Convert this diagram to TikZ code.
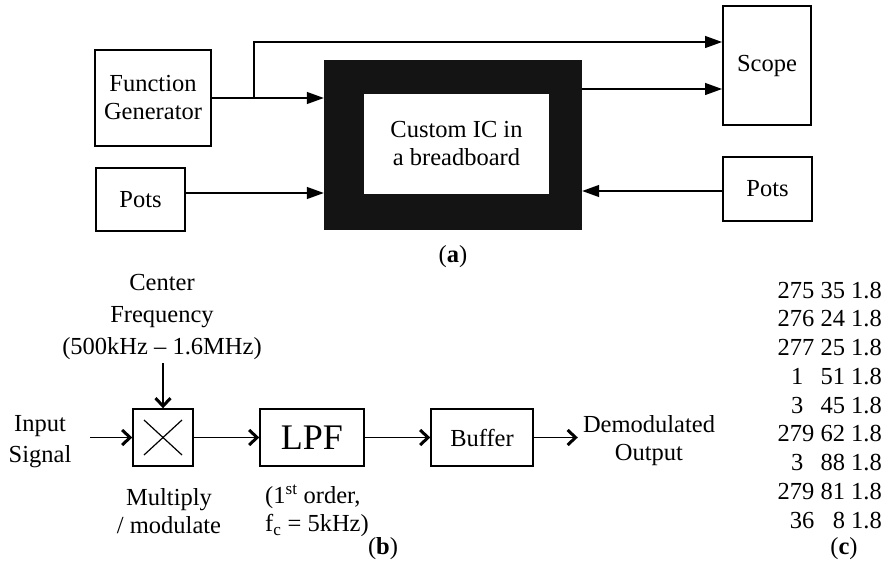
\documentclass[tikz,border=0pt]{standalone}
\usepackage{fontspec}
\setmainfont{Liberation Serif}
\usetikzlibrary{arrows.meta}

% one table row: two right-aligned integer columns and the constant 1.8
\newcommand\tabrow[2]{\makebox[1.5em][r]{#1}\hspace{.25em}\makebox[1em][r]{#2}\hspace{.25em}1.8}

\begin{document}
\begin{tikzpicture}[x=1bp,y=-1bp,
  txt/.style={font=\fontsize{24.5bp}{28bp}\selectfont, inner sep=0pt, align=center},
  boxa/.style={txt, draw, line width=2bp},
  boxb/.style={txt, draw, line width=1.4bp, minimum height=57bp},
  arrA/.style={line width=1.3bp, -{Triangle[length=17bp,width=12bp]}},
  arrB/.style={line width=1.3bp, -{Straight Barb[length=8bp,width=15bp,line width=3bp]}},
  sublabel/.style={txt},
]
\useasboundingbox (0,0) rectangle (894,568);

% ---------------- (a) bench set-up ----------------
\node[boxa, minimum width=116bp, minimum height=96bp] (fg) at (153,98) {Function\\Generator};
\node[boxa, minimum width=89bp, minimum height=63bp] (potsl) at (140.5,199.5) {Pots};
\node[boxa, minimum width=88bp, minimum height=119bp] (scope) at (767,65.5) {Scope};
\node[boxa, minimum width=89bp, minimum height=64bp] (potsr) at (767.5,189) {Pots};

% breadboard: thick black frame around the IC
\node[fill=black!92, draw=none, minimum width=258bp, minimum height=170bp, inner sep=0pt] (ic) at (453,145) {};
\node[txt, fill=white, minimum width=185bp, minimum height=100bp] (chip) at (456.5,144) {Custom IC in\\a breadboard};

\draw[arrA] (fg.east) -- (fg.east -| ic.west);
\coordinate (br) at (254,98);
\draw[arrA] (br) |- ([yshift=23.5bp]scope.west);
\draw[arrA] ([yshift=56bp]ic.east) -- ([yshift=56bp]ic.east -| scope.west);
\draw[arrA] ([yshift=6.5bp]potsl.east) -- ([yshift=6.5bp]potsl.east -| ic.west);
\draw[arrA] ([yshift=-2bp]potsr.west) -- ([yshift=-2bp]potsr.west -| ic.east);

\node[sublabel] (la) at (453,257) {(\textbf{a})};

% ---------------- (b) demodulator chain ----------------
\node[boxb, minimum width=60bp] (mul) at (163,437.5) {};
\draw[line width=1.2bp] ([xshift=-19bp,yshift=17.5bp]mul.center) -- ([xshift=19bp,yshift=-17.5bp]mul.center);
\draw[line width=1.2bp] ([xshift=-19bp,yshift=-17.5bp]mul.center) -- ([xshift=19bp,yshift=17.5bp]mul.center);
\node[boxb, minimum width=104bp, font=\fontsize{36bp}{40bp}\selectfont] (lpf) at (312,437.5) {LPF};
\node[boxb, minimum width=102bp] (buf) at (482,437.5) {Buffer};

\node[txt, font=\fontsize{24.5bp}{31bp}\selectfont] (inp) at (40,442) {Input\\Signal};
\node[txt, font=\fontsize{24.5bp}{32bp}\selectfont] (cf) at (162,317) {Center\\Frequency\\(500kHz -- 1.6MHz)};
\node[txt] (demod) at (649,441) {Demodulated\\Output};
\node[txt] (mullab) at (169,511) {Multiply\\/ modulate};
\node[txt, align=left, anchor=west] (lpflab) at (265,511) {(1\textsuperscript{st} order,\\f\textsubscript{c} = 5kHz)};

\coordinate (sig) at (90,437.5);
\coordinate (fin) at (163,363);
\draw[arrB] (sig) -- (mul.west);
\draw[arrB] (fin) -- (mul.north);
\draw[arrB] (mul.east) -- (lpf.west);
\draw[arrB] (lpf.east) -- (buf.west);
\draw[arrB, shorten >=5bp] (buf.east) -- (buf.east -| demod.west);

\node[sublabel] (lb) at (383,549) {(\textbf{b})};

% ---------------- (c) table of settings ----------------
\begin{scope}[every node/.style={txt, anchor=base east}]
\node (r1) at (882,298.0) {\tabrow{275}{35}};
\node (r2) at (882,326.75) {\tabrow{276}{24}};
\node (r3) at (882,355.5) {\tabrow{277}{25}};
\node (r4) at (882,384.25) {\tabrow{1\kern.45em}{51}};
\node (r5) at (882,413.0) {\tabrow{3\kern.45em}{45}};
\node (r6) at (882,441.75) {\tabrow{279}{62}};
\node (r7) at (882,470.5) {\tabrow{3\kern.45em}{88}};
\node (r8) at (882,499.25) {\tabrow{279}{81}};
\node (r9) at (882,528.0) {\tabrow{36}{8}};
\end{scope}

\node[sublabel] (lc) at (844,549) {(\textbf{c})};
\end{tikzpicture}
\end{document}
